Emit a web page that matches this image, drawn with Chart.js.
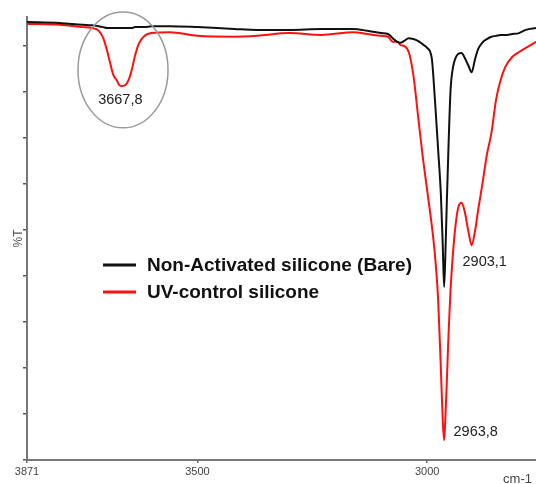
<!DOCTYPE html>
<html>
<head>
<meta charset="utf-8">
<script src="https://cdn.jsdelivr.net/npm/chart.js@4/dist/chart.umd.min.js"></script>
<style>
  body { margin: 0; background: #fff; }
</style>
</head>
<body>
<canvas id="myChart" width="536" height="484"></canvas>
<script>
// wavenumbers (cm-1), shared by both spectra
var wavenumbers = [3871, 3800, 3750, 3730, 3715, 3705, 3697, 3690, 3683, 3676,
    3670, 3664, 3657, 3650, 3643, 3636, 3628, 3615, 3600, 3560,
    3500, 3420, 3370, 3300, 3230, 3160, 3130, 3100, 3085, 3075,
    3065, 3058, 3050, 3040, 3030, 3020, 3010, 3000, 2990, 2983,
    2976, 2970, 2966, 2963, 2960, 2957, 2953, 2949, 2944, 2938,
    2932, 2925, 2918, 2910, 2903, 2896, 2889, 2880, 2870, 2860,
    2850, 2840, 2830, 2815, 2800, 2785, 2763];

// %T, non-activated silicone (bare)
var bareT = [95.2, 95.0, 94.6, 94.5, 94.3, 94.1, 93.9, 93.9, 93.9, 93.9,
    93.9, 93.9, 93.9, 93.9, 93.9, 94.1, 94.1, 94.1, 94.3, 94.3,
    94.1, 93.7, 93.5, 93.5, 93.7, 93.7, 93.3, 92.8, 92.6, 91.7,
    90.9, 90.7, 91.1, 91.7, 91.5, 91.1, 90.4, 89.6, 87.4, 78.3,
    67.4, 57.6, 46.7, 37.6, 45.7, 56.5, 69.6, 80.4, 85.2, 87.4,
    88.3, 88.5, 87.4, 85.7, 84.3, 87.0, 89.3, 90.7, 91.5, 92.0,
    92.2, 92.4, 92.4, 92.6, 92.8, 93.5, 93.9];

// %T, UV-control silicone
var uvT = [94.8, 94.6, 94.1, 93.9, 93.3, 91.7, 89.1, 86.3, 83.7, 82.6,
    81.5, 81.3, 81.5, 82.6, 84.8, 87.8, 90.4, 92.2, 92.8, 93.0,
    92.2, 92.0, 92.2, 92.8, 92.4, 93.0, 92.6, 92.2, 92.0, 90.9,
    90.9, 90.2, 90.0, 88.7, 83.7, 75.0, 66.3, 58.7, 51.1, 44.6,
    34.8, 19.6, 8.7, 4.3, 9.8, 17.4, 28.3, 37.0, 44.6, 51.1,
    55.0, 55.9, 53.9, 49.6, 46.7, 49.6, 54.3, 59.8, 66.3, 71.1,
    78.3, 82.6, 85.4, 87.6, 88.7, 89.6, 90.9];

var xTicks = [3871, 3500, 3000];

// peak labels: text, wavenumber, %T where the label sits
var peakText = ["3667,8", "2903,1", "2963,8"];
var peakX = [3667.8, 2874.7, 2894.3];
var peakY = [78.3, 43.0, 6.1];

function toPoints(ys) {
    var pts = [];
    for (var i = 0; i < wavenumbers.length; i++) {
        pts.push({x: wavenumbers[i], y: ys[i]});
    }
    return pts;
}

// circle round the OH band, legend inside the plot, peak labels, unit
var extras = {
    id: 'extras',
    afterDatasetsDraw: function(chart) {
        var ctx = chart.ctx;
        var xs = chart.scales.x, ys = chart.scales.y;
        ctx.save();

        // ellipse round 3667,8
        var cx = xs.getPixelForValue(3662), cy = ys.getPixelForValue(84.8);
        var rx = Math.abs(xs.getPixelForValue(3662 - 98) - cx);
        var ry = Math.abs(ys.getPixelForValue(84.8 + 12.6) - cy);
        ctx.strokeStyle = '#9a9a9a';
        ctx.lineWidth = 1.5;
        ctx.beginPath();
        ctx.ellipse(cx, cy, rx, ry, 0, 0, Math.PI * 2);
        ctx.stroke();

        ctx.font = '14.5px "Liberation Sans", Arial, sans-serif';
        ctx.fillStyle = '#222';
        ctx.textAlign = 'center';
        ctx.textBaseline = 'middle';
        for (var i = 0; i < peakText.length; i++) {
            ctx.fillText(peakText[i], xs.getPixelForValue(peakX[i]), ys.getPixelForValue(peakY[i]));
        }

        // x unit, bottom right (axis title gets mirrored by reverse:true)
        ctx.font = '13px "Liberation Sans", Arial, sans-serif';
        ctx.fillStyle = '#444';
        ctx.textAlign = 'right';
        ctx.fillText('cm-1', xs.right - 4, xs.bottom - 5);

        // legend
        var ds = chart.data.datasets;
        ctx.font = 'bold 19px "Liberation Sans", Arial, sans-serif';
        ctx.textAlign = 'left';
        for (var j = 0; j < ds.length; j++) {
            var ly = 265 + j * 27;
            ctx.strokeStyle = ds[j].borderColor;
            ctx.lineWidth = 3;
            ctx.beginPath();
            ctx.moveTo(103, ly);
            ctx.lineTo(136, ly);
            ctx.stroke();
            ctx.fillStyle = '#111';
            ctx.fillText(ds[j].label, 147, ly + 1);
        }
        ctx.restore();
    }
};

var ctx = document.getElementById('myChart').getContext('2d');
var chart = new Chart(ctx, {
    type: 'line',
    data: {
        datasets: [{
            label: 'Non-Activated silicone (Bare)',
            data: toPoints(bareT),
            borderColor: '#111111',
            borderWidth: 2,
            pointRadius: 0,
            cubicInterpolationMode: 'monotone'
        }, {
            label: 'UV-control silicone',
            data: toPoints(uvT),
            borderColor: '#ff1010',
            borderWidth: 2,
            pointRadius: 0,
            cubicInterpolationMode: 'monotone'
        }]
    },
    options: {
        responsive: false,
        animation: false,
        layout: { padding: { top: 17, left: 0, right: 0, bottom: 0 } },
        plugins: {
            legend: { display: false },
            tooltip: { enabled: false }
        },
        scales: {
            x: {
                type: 'linear',
                reverse: true,
                min: 2763,
                max: 3871,
                afterBuildTicks: function(scale) {
                    scale.ticks = xTicks.map(function(v) { return {value: v}; });
                },
                afterFit: function(scale) { scale.height = 24; },
                border: { color: '#777', width: 2 },
                grid: { drawOnChartArea: false, tickLength: 3, color: '#666', lineWidth: 1.5 },
                ticks: {
                    autoSkip: false,
                    maxRotation: 0,
                    padding: 2,
                    color: '#444',
                    font: { family: '"Liberation Sans", Arial, sans-serif', size: 11 },
                    callback: function(v) { return String(v); }
                }
            },
            y: {
                min: 0,
                max: 96.3,
                afterBuildTicks: function(scale) {
                    var t = [];
                    for (var v = 0; v <= 90; v += 10) t.push({value: v});
                    scale.ticks = t;
                },
                afterFit: function(scale) { scale.width = 27; },
                border: { color: '#777', width: 2 },
                grid: { drawOnChartArea: false, tickLength: 4, color: '#555', lineWidth: 1.5 },
                ticks: { callback: function() { return ''; } },
                title: {
                    display: true,
                    text: '%T',
                    color: '#555',
                    padding: { top: 11, bottom: 0 },
                    font: { family: '"Liberation Sans", Arial, sans-serif', size: 12 }
                }
            }
        }
    },
    plugins: [extras]
});
</script>
</body>
</html>
